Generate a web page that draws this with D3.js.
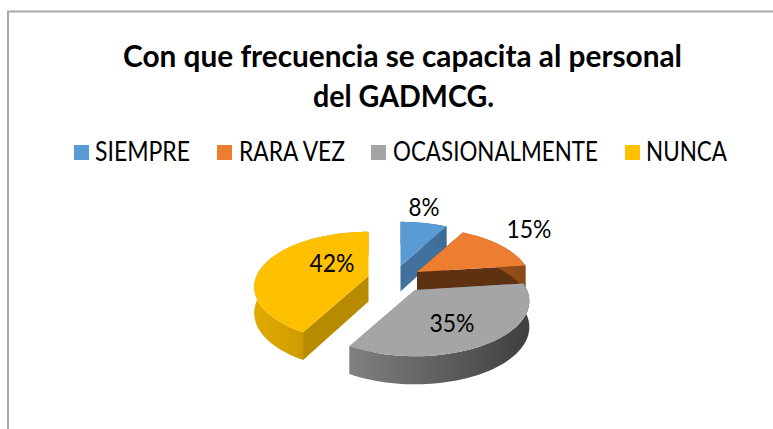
<!DOCTYPE html>
<html><head><meta charset="utf-8">
<style>html,body{margin:0;padding:0;background:#fff}svg{display:block}text{font-family:Lato,"Open Sans",sans-serif;fill:#000}</style>
<script src="https://cdn.jsdelivr.net/npm/d3@7"></script></head>
<body><svg id="c" width="773" height="429"></svg>
<script>
const titleLines = ["Con que frecuencia se capacita al personal", "del GADMCG."];
const categories = ["SIEMPRE", "RARA VEZ", "OCASIONALMENTE", "NUNCA"];
const values = [8, 15, 35, 42];
const colors = ["#5b9bd5", "#ed7d31", "#a5a5a5", "#ffc000"];
const radialWallColors = ["#41719c", "#5f3113", "#6e6e6e", "#b88a00"];
const rimLeft = ["#4a7fb0", "#b05c20", "#808080", "#e2aa00"];
const rimRight = ["#3c6a94", "#8a4818", "#3f3f3f", "#b48700"];

// layout
const sliceOrigins = [[400.5,266],[417,272],[415,290],[368.5,276]];
const labelPos = [[424,207],[529,229],[452,323],[332,263]];
const labelW = [31,45,45,45];
const legendSwatchX = [74,217,371,625];
const legendTextX = [95,239,393,646];
const legendTextW = [95,106,205,81];
const Rx = 112, Ry = 53, persp = 0.2, depth = 25.5;

const svg = d3.select("#c");
const defs = svg.append("defs");
svg.append("path").attr("d","M8,429V11.5H773").attr("fill","none").attr("stroke","#a8a8a8").attr("stroke-width",2);

titleLines.forEach((t,i)=>{
  svg.append("text").attr("x",[123,313][i]).attr("y",[67,107][i])
    .attr("font-size",31).attr("font-weight",700)
    .attr("textLength",[559,181][i]).attr("lengthAdjust","spacingAndGlyphs").text(t);
});

categories.forEach((c,i)=>{
  svg.append("rect").attr("x",legendSwatchX[i]).attr("y",145).attr("width",15).attr("height",15).attr("fill",colors[i]);
  svg.append("text").attr("x",legendTextX[i]).attr("y",161).attr("font-size",26)
    .attr("textLength",legendTextW[i]).attr("lengthAdjust","spacingAndGlyphs").text(c);
});

const pie = d3.pie().sort(null).value(d=>d)(values);
const line = d3.line().x(d=>d[0]).y(d=>d[1]);
function proj(o,a,r){
  const x = r*Math.sin(a), y = -r*Math.cos(a), w = 1-persp*y;
  return [o[0]+Rx*x/w, o[1]+Ry*y/w, y];
}
const drop = (p)=>[p[0], p[1]+depth*(1+0.1*p[2])];

[0,1,3,2].forEach(i=>{
  const s = pie[i], o = sliceOrigins[i];
  const angles = d3.range(0,61).map(k=>s.startAngle+(s.endAngle-s.startAngle)*k/60);
  const arc = angles.map(a=>proj(o,a,1));
  const c = proj(o,0,0);
  const g = svg.append("g");
  const xs = d3.extent(arc,d=>d[0]);
  const id = "rim"+i;
  const lg = defs.append("linearGradient").attr("id",id).attr("gradientUnits","userSpaceOnUse")
    .attr("x1",xs[0]).attr("x2",xs[1]).attr("y1",0).attr("y2",0);
  lg.append("stop").attr("offset",0).attr("stop-color",rimLeft[i]);
  lg.append("stop").attr("offset",1).attr("stop-color",rimRight[i]);
  [arc[0],arc[arc.length-1]].forEach(p=>{
    g.append("path").attr("d",line([c,p,drop(p),drop(c)])+"Z").attr("fill",radialWallColors[i]);
  });
  g.append("path").attr("d",line(arc.concat(arc.map(drop).reverse()))+"Z").attr("fill",`url(#${id})`);
  g.append("path").attr("d",line([c].concat(arc))+"Z").attr("fill",colors[i]);
});

values.forEach((v,i)=>{
  svg.append("text").attr("x",labelPos[i][0]-labelW[i]/2).attr("y",labelPos[i][1]+9).attr("font-size",25.5)
    .attr("textLength",labelW[i]).attr("lengthAdjust","spacingAndGlyphs").text(v+"%");
});
</script></body></html>
